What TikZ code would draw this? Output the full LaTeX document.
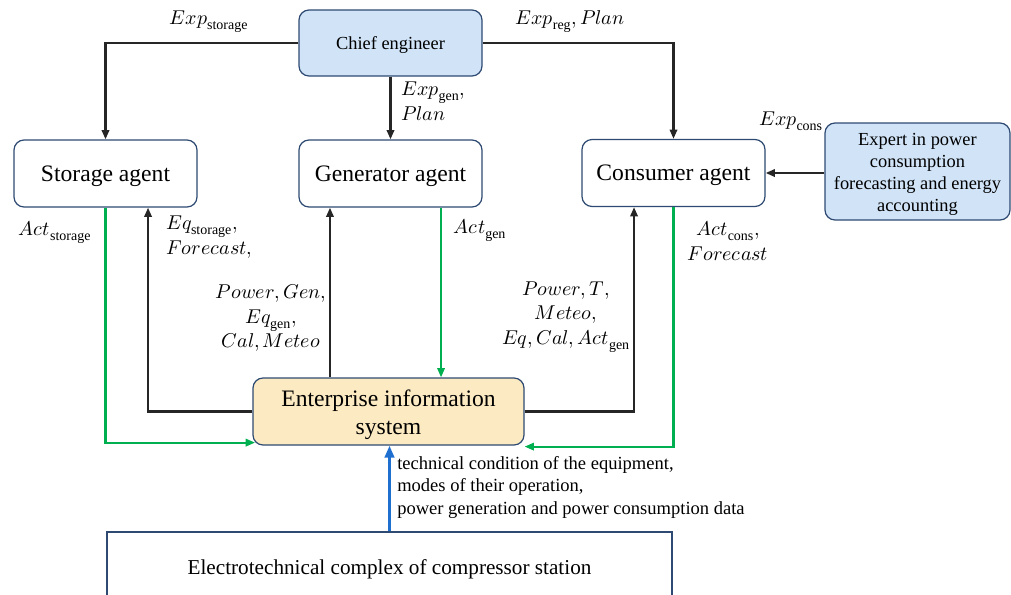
\documentclass[tikz,border=0pt]{standalone}
\usepackage{fontspec}
\usepackage{unicode-math}
\setmainfont{Liberation Serif}
\setmathfont{Latin Modern Math}
\usetikzlibrary{arrows.meta}

\definecolor{boxline}{HTML}{2E4A72}
\definecolor{humanfill}{HTML}{D0E3F7}
\definecolor{eisfill}{HTML}{FCEAC2}
\definecolor{flowgreen}{HTML}{00B050}
\definecolor{flowblue}{HTML}{1F6FD1}
\definecolor{flowblack}{HTML}{262626}

\newcommand{\sbs}[1]{\mathrm{#1}}

\begin{document}
\begin{tikzpicture}[x=0.75pt,y=-0.75pt,
  agentbox/.style={draw=boxline,line width=0.9pt,rounded corners=7.5pt,fill=white,
    minimum width=137.25pt,minimum height=50.25pt,inner sep=0pt,text depth=0pt,
    font=\fontsize{17.7}{21}\selectfont},
  humanbox/.style={draw=boxline,line width=0.9pt,rounded corners=7.5pt,fill=humanfill,
    inner sep=0pt,align=center},
  inside/.style={inner sep=0pt,align=center},
  lbl/.style={inner sep=0pt,align=center,font=\fontsize{15}{18.5}\selectfont},
  blk/.style={-{Triangle[length=7pt,width=5.5pt]},draw=flowblack,line width=1.8pt,color=flowblack},
  grn/.style={-{Triangle[length=7pt,width=5.5pt]},draw=flowgreen,line width=1.6pt,color=flowgreen},
  blu/.style={-{Triangle[length=9pt,width=7pt]},draw=flowblue,line width=2.6pt,color=flowblue}]

\clip (0,0) rectangle (1011,594);
\useasboundingbox (0,0) rectangle (1011,594);

% people
\node[humanbox,minimum width=137.25pt,minimum height=49.5pt,text depth=0pt,
  font=\fontsize{13.8}{16}\selectfont] (chief) at (390.5,43) {Chief engineer};
\node[humanbox,minimum width=138.75pt,minimum height=72.75pt,
  label={[inside,yshift=-2.2pt,font=\fontsize{13.8}{16.7}\selectfont]center:Expert in power\\consumption\\forecasting and energy\\accounting}]
  (expert) at (917.5,171.5) {};

% agents
\node[agentbox] (storage) at (105.5,173.5) {Storage agent};
\node[agentbox] (gen) at (390.5,173.5) {Generator agent};
\node[agentbox] (cons) at (673.5,173) {Consumer agent};

% information system and plant
\node[agentbox,fill=eisfill,minimum width=203.25pt,
  label={[inside,yshift=-2.5pt,font=\fontsize{17.7}{21}\selectfont]center:Enterprise information\\system}]
  (eis) at (388.5,411.5) {};
\node[draw=boxline,line width=0.8pt,minimum width=423.75pt,minimum height=52.5pt,
  inner sep=0pt,text depth=0pt,font=\fontsize{15.9}{19}\selectfont] (plant) at (389.5,567)
  {Electrotechnical complex of compressor station};

% instructions from the chief engineer and the expert
\draw[blk] (chief.west) -| (storage.north);
\draw[blk] (chief.south) -- (gen.north);
\draw[blk] (chief.east) -| (cons.north);
\draw[blk] (expert.west |- cons.east) -- (cons.east);

% data from the information system to the agents
\draw[blk] (eis.west) -| ([xshift=31.9pt]storage.south);
\draw[blk] ([xshift=-45.4pt]gen.south |- eis.north) -- ([xshift=-45.4pt]gen.south);
\draw[blk] (eis.east) -| ([xshift=-29.6pt]cons.south);

% actions of the agents
\draw[grn] (storage.south) |- ([xshift=2pt,yshift=2.25pt]eis.south west);
\draw[grn] ([xshift=37.9pt]gen.south) -- ([xshift=37.9pt]gen.south |- eis.north);
\draw[grn] (cons.south) |- ([yshift=-0.75pt]eis.south east);

% measurements from the plant
\draw[blu] (plant.north) -- (plant.north |- eis.south);

% labels
\node[lbl] (l1) at (209,22) {$Exp_{\sbs{storage}}$};
\node[lbl] (l2) at (570,22) {$Exp_{\sbs{reg}}, Plan$};
\node[lbl,align=left,anchor=north west] (l3) at (401,82) {$Exp_{\sbs{gen}},$\\$Plan$};
\node[lbl] (l4) at (791,121) {$Exp_{\sbs{cons}}$};
\node[lbl] (l5) at (55,232) {$Act_{\sbs{storage}}$};
\node[lbl,align=left,anchor=north west] (l6) at (166,216) {$Eq_{\sbs{storage}},$\\$Forecast,$};
\node[lbl] (l7) at (271,318) {$Power, Gen,$\\$Eq_{\sbs{gen}},$\\$Cal, Meteo$};
\node[lbl] (l8) at (480,230) {$Act_{\sbs{gen}}$};
\node[lbl] (l9) at (566,317) {$Power, T,$\\$Meteo,$\\$Eq, Cal, Act_{\sbs{gen}}$};
\node[lbl] (l10) at (728,241) {$Act_{\sbs{cons}},$\\$Forecast$};
\node[inner sep=0pt,align=left,anchor=north west,
  font=\fontsize{13.9}{16.9}\selectfont] (l11) at (397,456)
  {technical condition of the equipment,\\modes of their operation,\\power generation and power consumption data};

\end{tikzpicture}
\end{document}
